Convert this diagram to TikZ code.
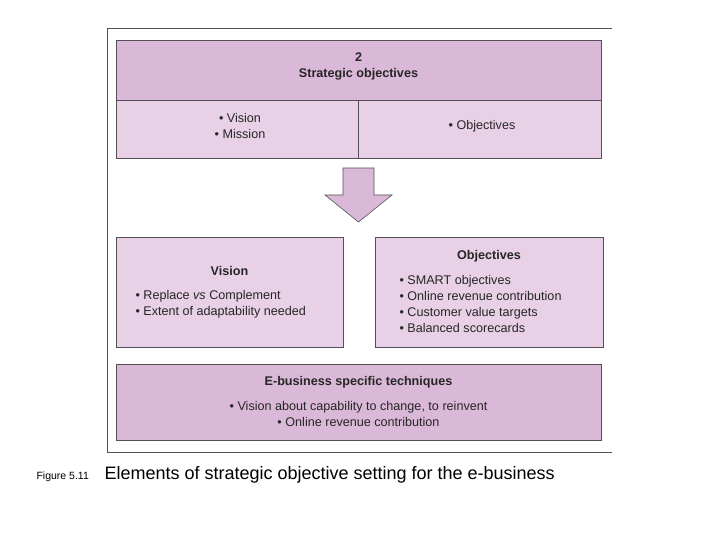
\documentclass[tikz,border=0pt]{standalone}
\usepackage{fontspec}
\setmainfont{Liberation Sans}
\definecolor{dk}{HTML}{DAB8D7}
\definecolor{lt}{HTML}{E8D1E6}
\definecolor{ed}{HTML}{555055}
\begin{document}
\begin{tikzpicture}[x=1pt,y=-1pt,
  box/.style={draw=ed,line width=0.6pt},
  txt/.style={font=\fontsize{12.6}{16}\selectfont,align=center,text=black!85}]
\useasboundingbox (0,0) rectangle (720,540);
\draw[ed,line width=0.6pt] (612,28) -- (107,28) -- (107,452) -- (612,452);
\fill[dk] (116,40) rectangle (601,100);
\fill[lt] (116,100) rectangle (601,158);
\draw[box] (116,40) rectangle (601,158);
\draw[box] (116,100) -- (601,100);
\draw[box] (358,100) -- (358,158);
\node[txt] (top) at (358.5,66) {\textbf{2}\\\textbf{Strategic objectives}};
\node[txt] (vm) at (240,126) {• Vision\\• Mission};
\node[txt] (ob) at (482,126) {• Objectives};
\draw[box,fill=dk] (343,168) -- (374,168) -- (374,195) -- (392,195) -- (358.5,222) -- (325,195) -- (343,195) -- cycle;
\draw[box,fill=lt] (116,237) rectangle (343,347);
\node[txt,font=\fontsize{12.6}{16}\selectfont\bfseries] (vh) at (229.5,271) {Vision};
\node[txt,align=left,anchor=west] (vl) at (132,304) {• Replace \textit{vs} Complement\\• Extent of adaptability needed};
\draw[box,fill=lt] (375,237) rectangle (603,347);
\node[txt,font=\fontsize{12.6}{16}\selectfont\bfseries] (oh) at (489,256) {Objectives};
\node[txt,align=left,anchor=west] (ol) at (396,304) {• SMART objectives\\• Online revenue contribution\\• Customer value targets\\• Balanced scorecards};
\draw[box,fill=dk] (116,364) rectangle (601,440);
\node[txt,font=\fontsize{12.6}{16}\selectfont\bfseries] (eh) at (358.5,382) {E-business specific techniques};
\node[txt] (el) at (358.5,414) {• Vision about capability to change, to reinvent\\• Online revenue contribution};
\node[anchor=base west,font=\fontsize{10.5}{12}\selectfont] (fig) at (33,479) {Figure 5.11};
\node[anchor=base west,font=\fontsize{18}{20}\selectfont] (cap) at (101,479) {Elements of strategic objective setting for the e-business};
\end{tikzpicture}
\end{document}
